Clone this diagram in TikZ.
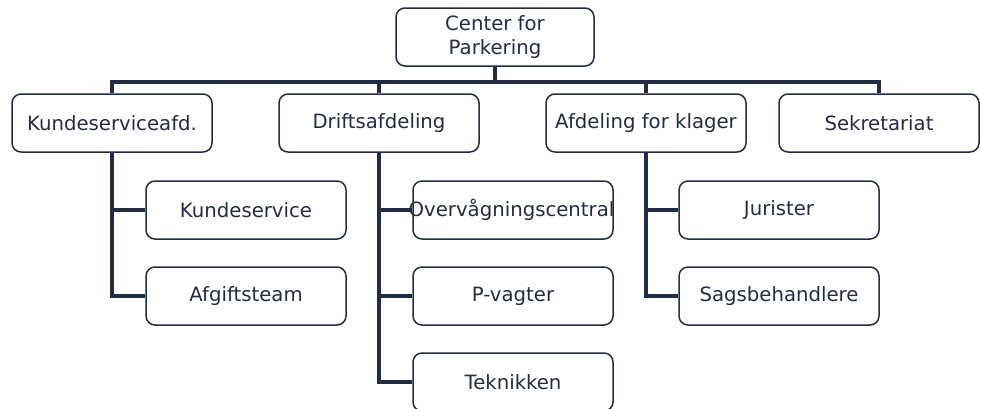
\documentclass[tikz,border=0pt]{standalone}
\usepackage{fontspec}
\setmainfont{DejaVu Sans}
\definecolor{navy}{HTML}{222D44}
\begin{document}
\begin{tikzpicture}[x=1pt,y=-1pt,
  orgbox/.style={draw=navy, line width=1.5pt, rounded corners=9pt, fill=white,
    minimum width=200pt, minimum height=58pt, inner sep=0pt, text=navy,
    font=\fontsize{19.7}{24.5}\selectfont, align=center},
  conn/.style={draw=navy, line width=4pt, line join=miter}]
\useasboundingbox (0,0) rectangle (981,408);
\begin{scope}
\clip (0,0) rectangle (981,408);
\coordinate (bar) at (495,81.5);
\node[orgbox, minimum width=198pt] (top) at (495,37) {Center for\\Parkering};
\node[orgbox] (k) at (112,123) {Kundeserviceafd.};
\node[orgbox] (d) at (379,123) {Driftsafdeling};
\node[orgbox] (a) at (646,123) {Afdeling for klager};
\node[orgbox] (s) at (879,123) {Sekretariat};
\node[orgbox] (k1) at (246,210) {Kundeservice};
\node[orgbox] (k2) at (246,296) {Afgiftsteam};
\node[orgbox] (d1) at (513,210) {\makebox[0pt]{\hspace*{-3pt}Overvågningscentral}};
\node[orgbox] (d2) at (513,296) {P-vagter};
\node[orgbox] (d3) at (513,382) {Teknikken};
\node[orgbox] (a1) at (779,210) {Jurister};
\node[orgbox] (a2) at (779,296) {Sagsbehandlere};
\draw[conn] (top.south) -- (bar);
\draw[conn] (k.north) |- (bar) -| (s.north);
\draw[conn] (d.north) -- (d.north |- bar);
\draw[conn] (a.north) -- (a.north |- bar);
\draw[conn] (k.south) |- (k2.west);
\draw[conn] (k.south |- k1.west) -- (k1.west);
\draw[conn] (d.south) |- (d3.west);
\draw[conn] (d.south |- d1.west) -- (d1.west);
\draw[conn] (d.south |- d2.west) -- (d2.west);
\draw[conn] (a.south) |- (a2.west);
\draw[conn] (a.south |- a1.west) -- (a1.west);
\end{scope}
\end{tikzpicture}
\end{document}
